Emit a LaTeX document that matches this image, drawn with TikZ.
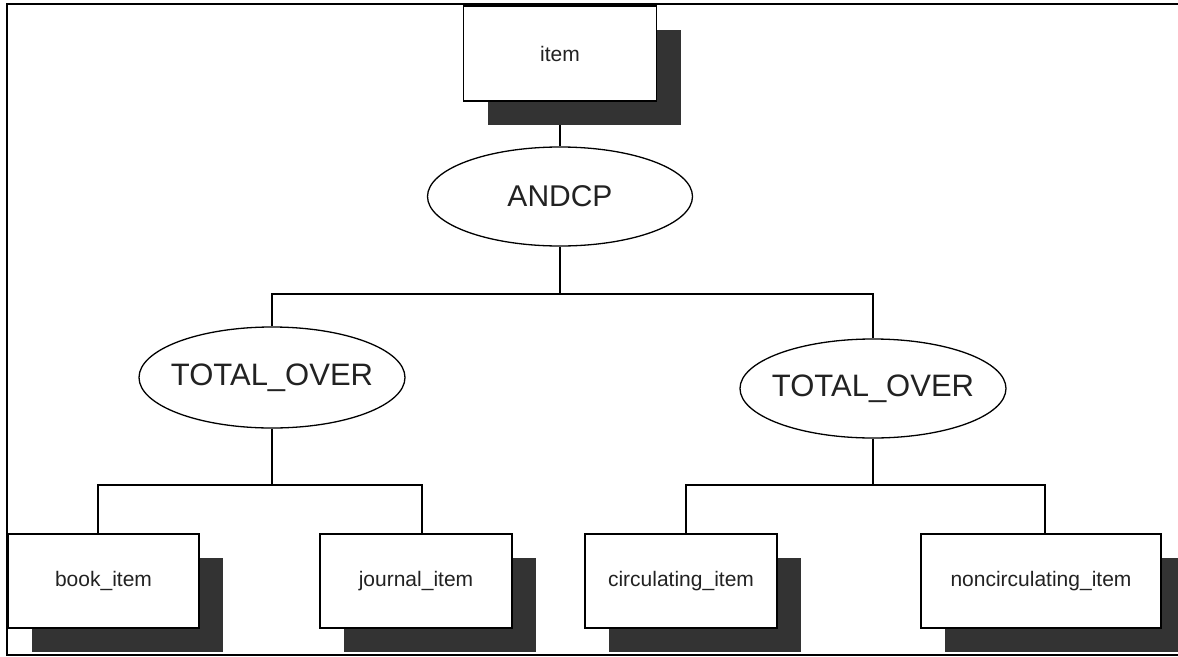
\documentclass[tikz,border=0pt]{standalone}
\usepackage{fontspec}
\setmainfont{Liberation Sans}
\usetikzlibrary{shapes.geometric,shadows,backgrounds}
\definecolor{shadowc}{HTML}{333333}
\definecolor{textc}{HTML}{222222}
\tikzset{
  classbox/.style={rectangle, draw=black, line width=1.5pt, fill=white, inner sep=0pt,
    minimum width=192pt, minimum height=95pt, text=textc,
    font=\fontsize{21}{25}\selectfont,
    general shadow={fill=shadowc, shadow xshift=24pt, shadow yshift=-24pt}},
  opnode/.style={ellipse, draw=black, line width=1.3pt, fill=white, inner ysep=0pt,
    inner xsep=-14pt, minimum width=266pt, minimum height=100pt, text=textc,
    font=\fontsize{31}{36}\selectfont},
  link/.style={draw=black, line width=1.6pt},
  frameline/.style={draw=black, line width=2.4pt}
}
\begin{document}
\begin{tikzpicture}[x=1pt,y=-1pt]
\useasboundingbox (0,0) rectangle (1178,656);
% nodes
\node[classbox, minimum width=193pt] (item) at (560,53.5) {item};
\node[opnode, minimum width=265pt, minimum height=99pt, font=\fontsize{30}{35}\selectfont] (andcp) at (560,196.5) {ANDCP};
\node[opnode, minimum height=101pt] (tl) at (272,377.5) {TOTAL\_OVER};
\node[opnode, minimum height=99pt] (tr) at (873,388.5) {TOTAL\_OVER};
\node[classbox, minimum width=191pt, minimum height=94pt] (book) at (103.5,581) {book\_item};
\node[classbox, minimum height=94pt] (journal) at (416,581) {journal\_item};
\node[classbox, minimum height=94pt] (circ) at (681,581) {circulating\_item};
\node[classbox, minimum width=240pt, minimum height=94pt] (noncirc) at (1041,581) {noncirculating\_item};
\coordinate (hubA) at (560,294);
\coordinate (hubL) at (272,485);
\coordinate (hubR) at (873,485);
% connectors behind the boxes and shadows
\begin{scope}[on background layer]
\fill[white] (0,0) rectangle (1178,656);
\draw[link] (item.south) -- (andcp.north);
\draw[link] (andcp.south) -- (hubA);
\draw[link] (tl.north) |- (hubA) -| (tr.north);
\draw[link] (tl.south) -- (hubL);
\draw[link] ([xshift=-5.5pt]book.north) |- (hubL) -| ([xshift=6pt]journal.north);
\draw[link] (tr.south) -- (hubR);
\draw[link] ([xshift=5pt]circ.north) |- (hubR) -| ([xshift=4pt]noncirc.north);
\end{scope}
% frame
\draw[frameline] (1180,4) -- (7,4) -- (7,655) -- (1180,655);
\end{tikzpicture}
\end{document}
